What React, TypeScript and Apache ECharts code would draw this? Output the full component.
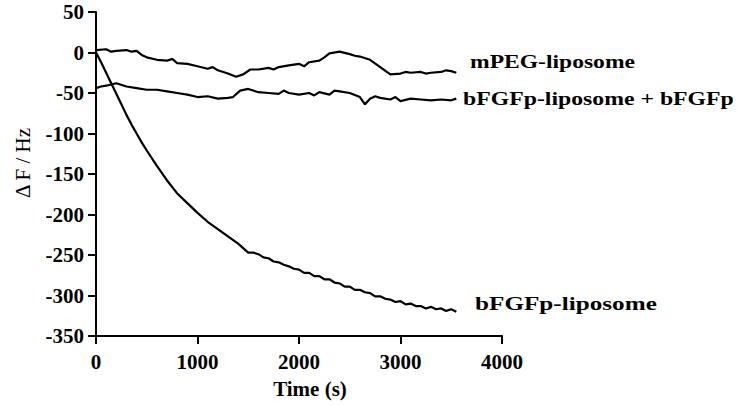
import React, { useEffect, useRef } from "react";
import * as echarts from "echarts";

const mpegTime = [0, 100, 150, 200, 300, 350, 400, 450, 500, 600, 700, 750, 800, 900, 1000, 1100, 1150, 1200, 1300, 1380, 1450, 1520, 1600, 1700, 1750, 1800, 1900, 2000, 2050, 2100, 2200, 2250, 2300, 2400, 2500, 2550, 2600, 2700, 2800, 2900, 3000, 3050, 3100, 3200, 3250, 3300, 3400, 3450, 3500, 3550];
const mpegValues = [3, 4, 1, 2, 3, 1, 2, -3, -6, -9, -10, -8, -13, -14, -17, -20, -18, -22, -26, -30, -27, -21, -21, -19, -21, -18, -16, -14, -17, -12, -10, -6, -1, 1, -2, -4, -5, -9, -18, -27, -26, -24, -25, -24, -26, -25, -24, -22, -23, -25];

const mixTime = [0, 50, 100, 200, 300, 400, 500, 600, 700, 800, 900, 1000, 1100, 1200, 1300, 1350, 1420, 1500, 1600, 1700, 1800, 1850, 1900, 2000, 2100, 2150, 2200, 2300, 2350, 2400, 2500, 2600, 2650, 2700, 2750, 2800, 2900, 2950, 3000, 3100, 3200, 3300, 3400, 3500, 3550];
const mixValues = [-44, -42, -41, -38, -42, -44, -46, -46, -48, -50, -52, -55, -54, -57, -56, -55, -47, -45, -49, -50, -51, -47, -50, -52, -50, -53, -49, -52, -47, -48, -50, -55, -64, -57, -54, -56, -58, -55, -60, -57, -58, -59, -58, -59, -57];

const lipoTime = [0, 50, 100, 150, 200, 250, 300, 350, 400, 450, 500, 600, 700, 800, 900, 1000, 1100, 1200, 1300, 1400, 1500, 1550, 1600, 1650, 1700, 1750, 1800, 1850, 1900, 1950, 2000, 2050, 2100, 2150, 2200, 2250, 2300, 2350, 2400, 2450, 2500, 2550, 2600, 2650, 2700, 2750, 2800, 2850, 2900, 2950, 3000, 3050, 3100, 3150, 3200, 3250, 3300, 3350, 3400, 3450, 3500, 3550];
const lipoValues = [0, -12, -25, -38, -51, -64, -77, -89, -100, -111, -121, -140, -158, -174, -186, -198, -209, -218, -227, -236, -247, -247, -249, -253, -254, -258, -259, -262, -264, -267, -268, -272, -272, -276, -276, -280, -280, -284, -285, -289, -289, -293, -293, -296, -297, -301, -301, -304, -305, -308, -307, -311, -310, -313, -313, -316, -314, -317, -316, -319, -317, -320];

const seriesNames = ["mPEG-liposome", "bFGFp-liposome + bFGFp", "bFGFp-liposome"];
const xTitle = "Time (s)";
const yTitle = "Δ F / Hz";

const yTicks = { min: -350, max: 50, interval: 50 };
const xTicks = { min: 0, max: 4000, interval: 1000 };

const FONT = "Liberation Serif";

function zip(t: number[], v: number[]) {
  return t.map((x, i) => [x, v[i]]);
}

export default function App() {
  const ref = useRef<HTMLDivElement>(null);
  useEffect(() => {
    if (!ref.current) return;
    const chart = echarts.init(ref.current, undefined, { renderer: "svg" });
    const lineStyle = { color: "#000", width: 2.2 };
    chart.setOption({
      animation: false,
      backgroundColor: "#fff",
      grid: { left: 96, right: 237, top: 12, bottom: 71, containLabel: false, outerBoundsMode: "none" },
      xAxis: {
        type: "value",
        min: xTicks.min,
        max: xTicks.max,
        interval: xTicks.interval,
        axisLine: { onZero: false, lineStyle: { color: "#000", width: 2 } },
        axisTick: { length: 8, lineStyle: { color: "#000", width: 2 } },
        axisLabel: { fontFamily: FONT, fontWeight: "bold", fontSize: 21, color: "#000", margin: 15, formatter: (v: number) => String(v) },
        splitLine: { show: false },
      },
      yAxis: {
        type: "value",
        min: yTicks.min,
        max: yTicks.max,
        interval: yTicks.interval,
        axisLine: { show: true, onZero: false, lineStyle: { color: "#000", width: 2 } },
        axisTick: { show: true, length: 8, lineStyle: { color: "#000", width: 2 } },
        axisLabel: { fontFamily: FONT, fontWeight: "bold", fontSize: 21, color: "#000", margin: 12, formatter: (v: number) => String(v) },
        splitLine: { show: false },
      },
      series: [
        { name: seriesNames[0], type: "line", data: zip(mpegTime, mpegValues), showSymbol: false, lineStyle },
        { name: seriesNames[1], type: "line", data: zip(mixTime, mixValues), showSymbol: false, lineStyle },
        { name: seriesNames[2], type: "line", data: zip(lipoTime, lipoValues), showSymbol: false, lineStyle },
      ],
      graphic: [
        { type: "text", x: 470, y: 62, scaleX: 1.31, style: { text: seriesNames[0], fontFamily: FONT, fontWeight: "bold", fontSize: 18, fill: "#000", verticalAlign: "middle" } },
        { type: "text", x: 463, y: 99, scaleX: 1.32, style: { text: seriesNames[1], fontFamily: FONT, fontWeight: "bold", fontSize: 18, fill: "#000", verticalAlign: "middle" } },
        { type: "text", x: 475, y: 304, scaleX: 1.4, style: { text: seriesNames[2], fontFamily: FONT, fontWeight: "bold", fontSize: 18, fill: "#000", verticalAlign: "middle" } },
        { type: "text", x: 310, y: 389, style: { text: xTitle, fontFamily: FONT, fontWeight: "bold", fontSize: 21, fill: "#000", align: "center", verticalAlign: "middle" } },
        { type: "text", x: 23, y: 163, rotation: Math.PI / 2, style: { text: yTitle, fontFamily: FONT, fontSize: 21, fill: "#000", align: "center", verticalAlign: "middle" } },
      ],
    });
    return () => chart.dispose();
  }, []);
  return <div ref={ref} style={{ width: 739, height: 407, position: "absolute", left: 0, top: 0 }} />;
}
